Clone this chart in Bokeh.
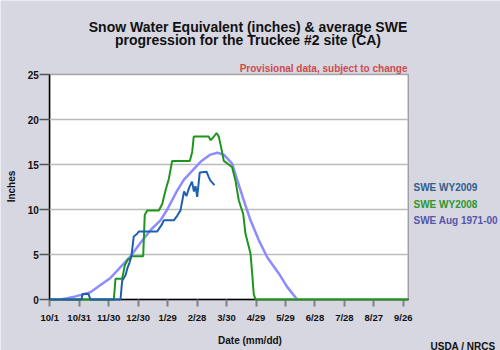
from bokeh.plotting import figure
from bokeh.models import FixedTicker, Label, Range1d, BoxAnnotation
from bokeh.embed import file_html
from bokeh.resources import INLINE
import math

# Day of water year (0 = Oct 1)
tick_days = [0, 30, 60, 90, 120, 150, 180, 210, 240, 270, 300, 330, 360]
tick_labels = ["10/1", "10/31", "11/30", "12/30", "1/29", "2/28", "3/30",
               "4/29", "5/29", "6/28", "7/28", "8/27", "9/26"]
y_ticks = [0, 5, 10, 15, 20, 25]
grid_vals = [5, 10, 15, 20]
X_MAX = 365
Y_MAX = 25

wy2009_day = [0, 32.3, 33.3, 39.4, 41.4, 72, 73.7, 77.1, 78.8, 81.2, 83.2, 85.5, 89,
              90.6, 109.4, 114.5, 116.1, 126.3, 129.7, 133.1, 136.7, 139.2, 141.8,
              144.8, 146.8, 148.4, 150.1, 152.7, 159.6, 161.9, 163.6, 167.7]
wy2009_swe = [0, 0, 0.6, 0.6, 0, 0, 2.1, 2.7, 3.4, 4.1, 4.9, 7.0, 7.3,
              7.55, 7.55, 8.4, 8.8, 8.8, 9.3, 9.9, 12.0, 11.5, 12.4,
              13.1, 12.0, 12.6, 11.4, 14.1, 14.2, 13.6, 13.2, 12.7]

wy2008_day = [0, 65.2, 66.9, 73.7, 76.4, 79.8, 82.2, 83.2, 95.1, 96.7, 99.2, 111,
              114.5, 117.8, 121.2, 124.6, 142.6, 145, 146.6, 161.9, 163.6, 166.4,
              169.8, 172.1, 174.5, 177.2, 182.3, 185.7, 189.1, 192.5, 197, 199.3,
              204.4, 206.1, 207.7, 209.5, 365]
wy2008_swe = [0, 0, 2.3, 2.3, 3.8, 4.5, 4.5, 4.8, 4.8, 9.4, 9.9, 9.9,
              10.6, 12.1, 13.4, 15.4, 15.4, 16.4, 18.1, 18.1, 17.7, 18.0,
              18.5, 18.1, 16.9, 15.4, 15.0, 14.7, 13.2, 11.0, 9.5, 7.3,
              5.1, 2.9, 0.6, 0, 0]

avg_day = [10.9, 17.7, 26.2, 34.6, 41.4, 51.6, 61.8, 72.0, 82.2, 92.4, 102.5, 112.7,
           119.6, 129.7, 136.5, 143.3, 153.5, 163.6, 170.5, 177.2, 185.7, 190.8,
           197.6, 204.4, 212.8, 221.4, 233.2, 241.7, 251.9]
avg_swe = [0, 0.15, 0.35, 0.6, 0.8, 1.6, 2.4, 3.6, 4.8, 6.3, 7.7, 8.8,
           10.0, 12.1, 13.3, 14.1, 15.3, 16.1, 16.3, 16.1, 15.1, 13.3,
           11.0, 8.8, 6.6, 4.7, 2.9, 1.4, 0]

FONT = "Liberation Sans"
BG = "#D7D7E1"

# Plot area: canvas x 49.3..407.7, canvas y 74..299
W, H = 500, 350
LEFT, RIGHT, TOP, BOTTOM = 49.3, 407.7, 74.0, 299.0
kx = (RIGHT - LEFT) / X_MAX
ky = (BOTTOM - TOP) / Y_MAX
x_rng = Range1d(-LEFT / kx, X_MAX + (W - RIGHT) / kx)
y_rng = Range1d(-(H - BOTTOM) / ky, Y_MAX + TOP / ky)

p = figure(width=W, height=H, output_backend="svg", toolbar_location=None,
           x_range=x_rng, y_range=y_rng,
           min_border_left=0, min_border_right=0, min_border_top=0,
           min_border_bottom=0)
p.border_fill_color = BG
p.background_fill_color = BG
p.outline_line_color = None
p.xgrid.grid_line_color = None
p.ygrid.grid_line_color = None

# White plotting area with black frame
p.add_layout(BoxAnnotation(left=0, right=X_MAX, bottom=0, top=Y_MAX,
                           fill_color="white", fill_alpha=1,
                           line_color="black", line_width=1.5, level="image"))

# Horizontal grid lines
p.segment(x0=[0] * len(grid_vals), x1=[X_MAX] * len(grid_vals),
          y0=grid_vals, y1=grid_vals, line_color="#BBBBBB", line_width=1.5)

p.line(avg_day, avg_swe, line_color="#8C8CFF", line_width=2.5)
p.line(wy2008_day, wy2008_swe, line_color="#1E961E", line_width=2)
p.line(wy2009_day, wy2009_swe, line_color="#1F5FAF", line_width=2)

# Axes fixed at the plot-area edges
p.xaxis.fixed_location = 0
p.yaxis.fixed_location = 0
p.xaxis.bounds = (0, X_MAX)
p.yaxis.bounds = (0, Y_MAX)
p.xaxis.ticker = FixedTicker(ticks=tick_days)
p.xaxis.major_label_overrides = {d: l for d, l in zip(tick_days, tick_labels)}
p.yaxis.ticker = FixedTicker(ticks=y_ticks)
for ax in (p.xaxis, p.yaxis):
    ax.level = "underlay"
    ax.axis_line_color = "black"
    ax.axis_line_width = 1.5
    ax.minor_tick_line_color = None
    ax.major_tick_in = 0
    ax.major_label_text_font = FONT
    ax.major_label_text_font_style = "bold"
    ax.major_label_text_color = "#111111"
p.xaxis.major_label_text_font_size = "9.5px"
p.yaxis.major_label_text_font_size = "10px"
p.xaxis.major_tick_out = 7
p.xaxis.major_tick_line_color = "#808080"
p.xaxis.major_tick_line_width = 2
p.xaxis.major_label_standoff = 5
p.yaxis.major_tick_out = 10
p.yaxis.major_tick_line_color = "#555555"
p.yaxis.major_tick_line_width = 1.5
p.yaxis.major_label_standoff = 1


def lab(text, cx, cy, size="10px", color="#111111", align="left",
        baseline="alphabetic", angle=0):
    # cx, cy: canvas pixels from top-left
    p.add_layout(Label(x=cx, y=H - cy, x_units="screen", y_units="screen", text=text,
                       text_font=FONT, text_font_style="bold", text_font_size=size,
                       text_color=color, text_align=align, text_baseline=baseline,
                       angle=angle))


lab("Snow Water Equivalent (inches) & average SWE", 247.5, 26, size="14px", align="center")
lab("progression for the Truckee #2 site (CA)", 247.5, 39.5, size="14px", align="center")
lab("Provisional data, subject to change", 407, 68, size="10px", color="#CC4B4B", align="right")
lab("SWE WY2009", 413, 187.3, color="#2E5E8E")
lab("SWE WY2008", 413, 204, color="#2E962E")
lab("SWE Aug 1971-00", 413, 220, color="#5555AA")
lab("USDA / NRCS", 495, 345.5, align="right")
lab("Date (mm/dd)", 249.5, 340, align="center")
lab("Inches", 11, 186, align="center", baseline="middle", angle=math.pi / 2)

open("out.html", "w").write(file_html(p, INLINE))
